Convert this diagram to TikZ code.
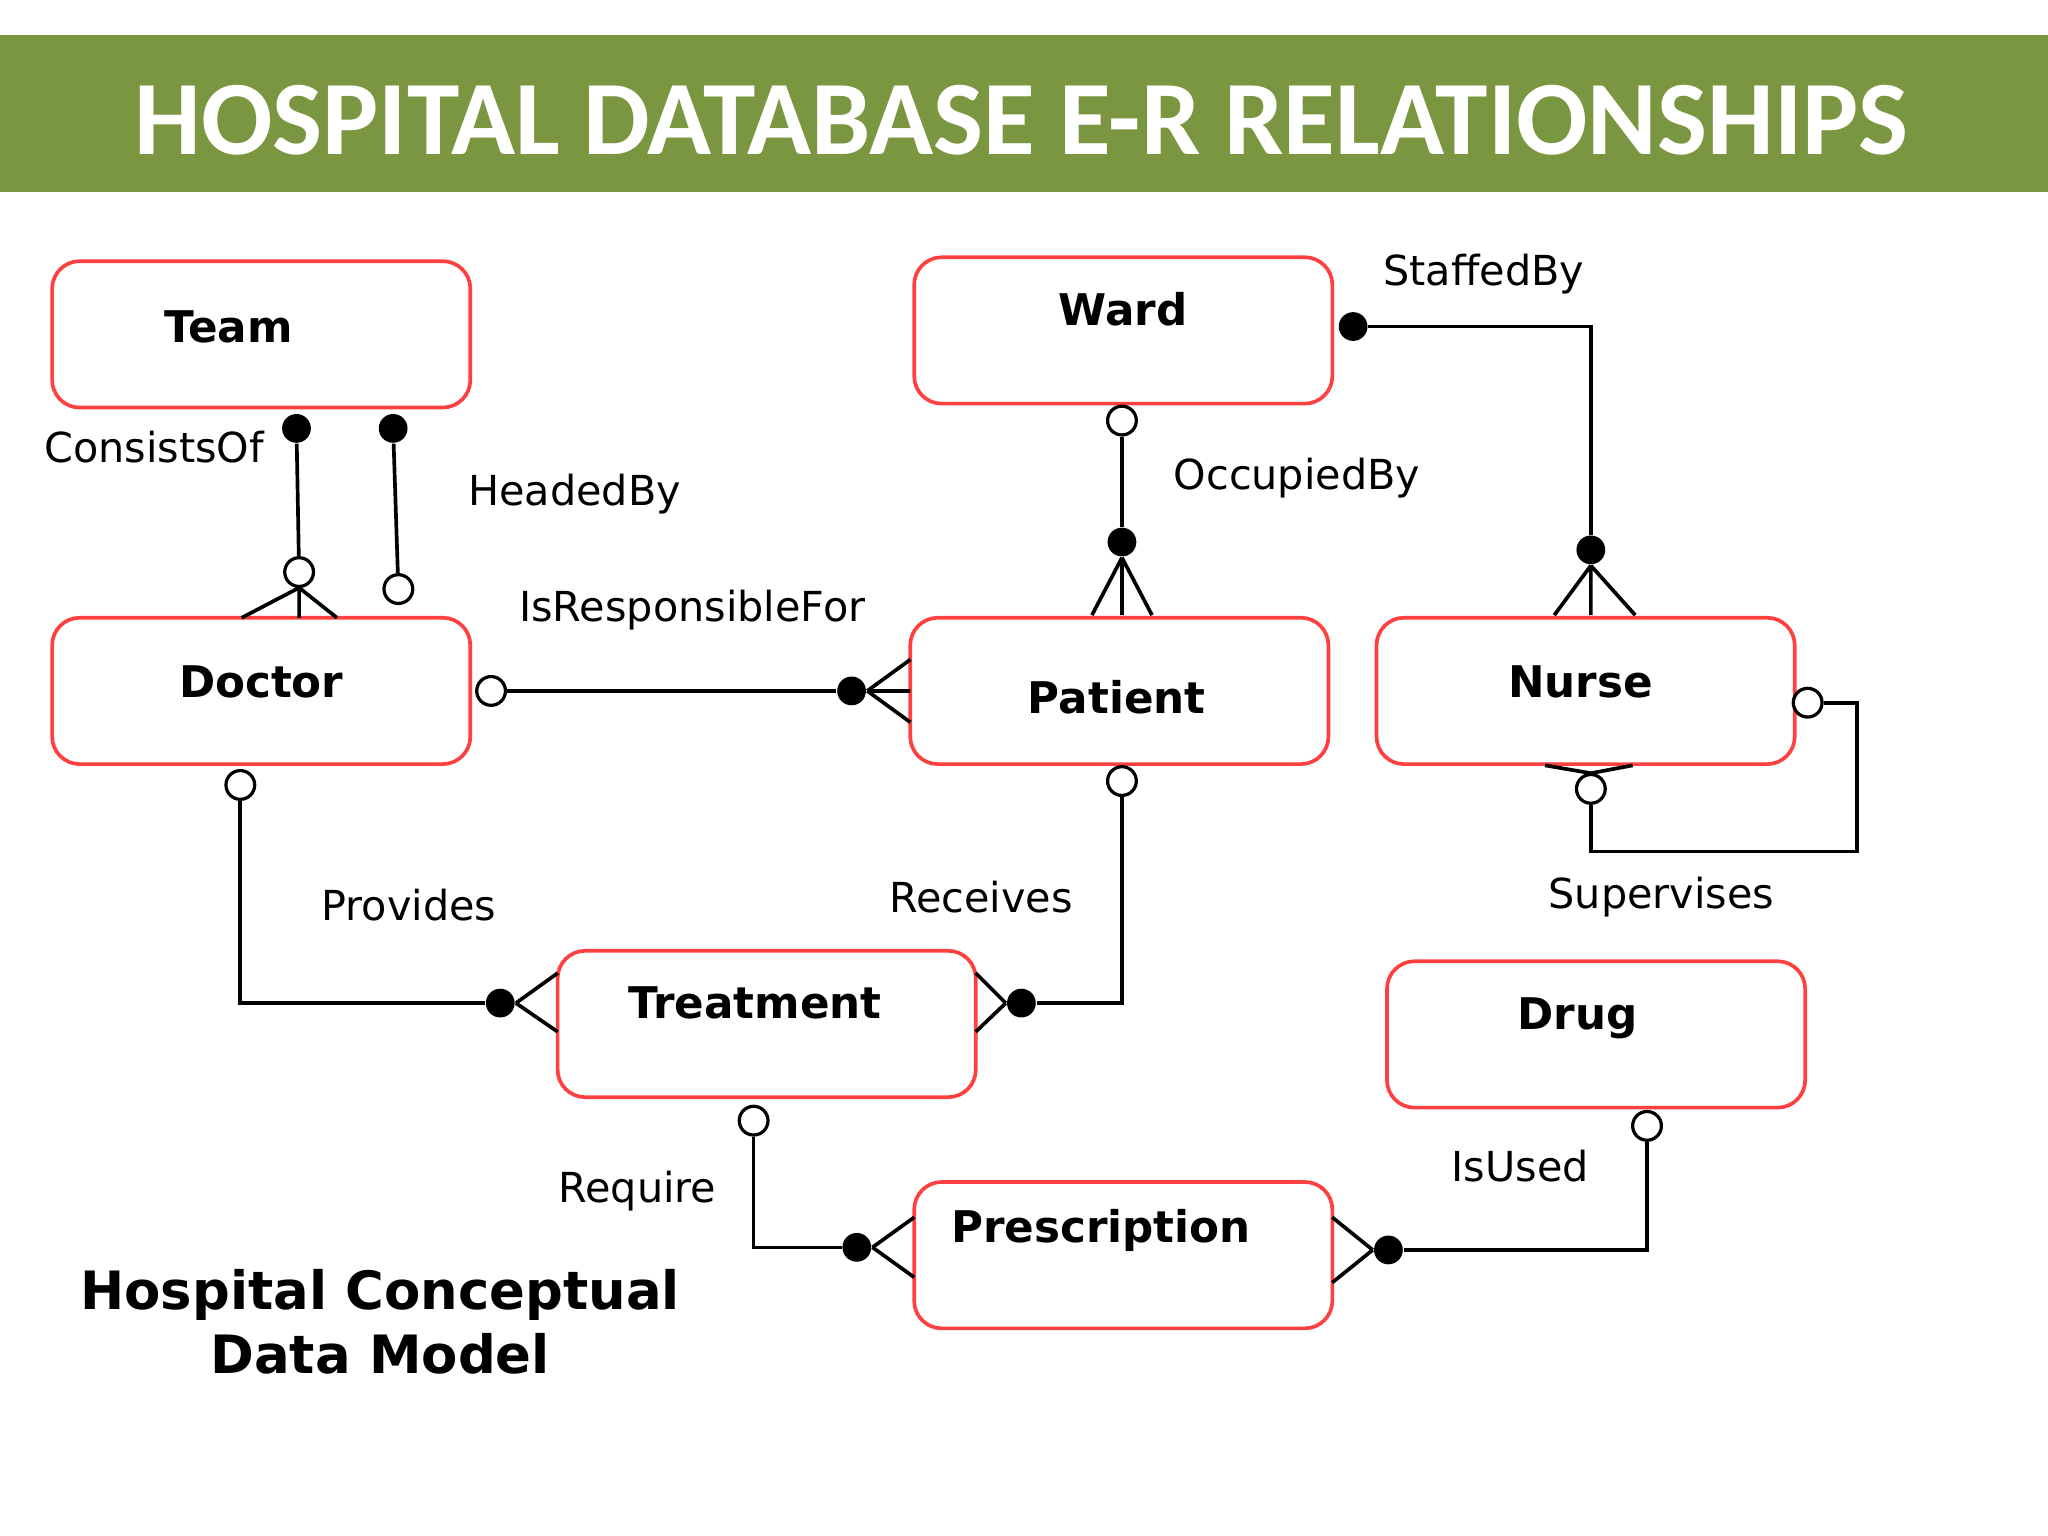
\documentclass[tikz,border=0pt]{standalone}
\usepackage{fontspec}
\setmainfont{DejaVu Sans}
\newfontfamily\titlefont{Carlito}
\begin{document}
\begin{tikzpicture}[x=0.01cm,y=-0.01cm,
  entity/.style={draw=red!75!white,line width=0.8pt,rounded corners=6pt,minimum width=3.2cm,minimum height=1.12cm},
  elabel/.style={font=\fontsize{9.5}{11}\selectfont\bfseries},
  rel/.style={font=\fontsize{9}{11}\selectfont},
  one/.style={circle,fill=black,inner sep=0pt,minimum size=0.22cm},
  opt/.style={circle,draw=black,fill=white,line width=0.7pt,inner sep=0pt,minimum size=0.22cm},
  link/.style={line width=0.8pt}]
\useasboundingbox (0,0) rectangle (1568,1176);
% title band
\fill[fill={rgb,255:red,122;green,150;blue,64}] (0,27) rectangle (1568,147);
\node[text=white,font=\titlefont\fontsize{23}{26}\selectfont\bfseries] (title) at (782,92) {HOSPITAL DATABASE E-R RELATIONSHIPS};
% entities
\node[entity] (team) at (200,256) {};
\node[entity] (ward) at (860,253) {};
\node[entity] (doctor) at (200,529) {};
\node[entity] (patient) at (857,529) {};
\node[entity] (nurse) at (1214,529) {};
\node[entity] (treat) at (587,784) {};
\node[entity] (drug) at (1222,792) {};
\node[entity] (presc) at (860,961) {};
\node[elabel] at (175,250) {Team};
\node[elabel] at (860,237) {Ward};
\node[elabel] at (200,522) {Doctor};
\node[elabel] at (855,534) {Patient};
\node[elabel] at (1210,522) {Nurse};
\node[elabel] at (578,768) {Treatment};
\node[elabel] at (1208,780) {Drug};
\node[elabel] at (843,942) {Prescription};
% ConsistsOf
\draw[link] (229,450) -- (185,473) (229,450) -- (258,473) (229,450) -- (229,473);
\node[one] (c1) at (227,328) {};
\node[opt] (c2) at (229,438) {};
\draw[link] (c1) -- (c2);
% HeadedBy
\node[one] (h1) at (301,328) {};
\node[opt] (h2) at (305,451) {};
\draw[link] (h1) -- (h2);
% OccupiedBy
\draw[link] (859,427) -- (836,471) (859,427) -- (882,471) (859,427) -- (859,471);
\node[opt] (o1) at (859,322) {};
\node[one] (o2) at (859,415) {};
\draw[link] (o1) -- (o2);
% StaffedBy
\draw[link] (1218,433) -- (1190,471) (1218,433) -- (1252,471) (1218,433) -- (1218,471);
\node[one] (s1) at (1036,250) {};
\node[one] (s2) at (1218,421) {};
\draw[link] (s1) -| (s2);
% IsResponsibleFor
\draw[link] (664,529) -- (697,505) (664,529) -- (697,553) (664,529) -- (697,529);
\node[opt] (r1) at (376,529) {};
\node[one] (r2) at (652,529) {};
\draw[link] (r1) -- (r2);
% Provides
\draw[link] (395,768) -- (427,745) (395,768) -- (427,790);
\node[opt] (p1) at (184,601) {};
\node[one] (p2) at (383,768) {};
\draw[link] (p1) |- (p2);
% Receives
\draw[link] (770,768) -- (747,745) (770,768) -- (747,790);
\node[opt] (v1) at (859,598) {};
\node[one] (v2) at (782,768) {};
\draw[link] (v1) |- (v2);
% Supervises
\draw[link] (1218,592) -- (1183,586) (1218,592) -- (1250,586);
\node[opt] (u1) at (1384,538) {};
\node[opt] (u2) at (1218,604) {};
\coordinate (u3) at (1422,652);
\draw[link] (u1) -| (u3) -| (u2);
% Require
\draw[link] (668,955) -- (700,932) (668,955) -- (700,978);
\node[opt] (q1) at (577,858) {};
\node[one] (q2) at (656,955) {};
\draw[link] (q1) |- (q2);
% IsUsed
\draw[link] (1051,957) -- (1020,932) (1051,957) -- (1020,982);
\node[opt] (d1) at (1261,862) {};
\node[one] (d2) at (1063,957) {};
\draw[link] (d1) |- (d2);
% relationship names
\node[rel] at (118,342) {ConsistsOf};
\node[rel] at (440,378) {HeadedBy};
\node[rel] at (993,366) {OccupiedBy};
\node[rel] at (1136,210) {StaffedBy};
\node[rel] at (530,467) {IsResponsibleFor};
\node[rel] at (313,693) {Provides};
\node[rel] at (751,687) {Receives};
\node[rel] at (1272,687) {Supervises};
\node[rel] at (488,912) {Require};
\node[rel] at (1164,893) {IsUsed};
\node[font=\fontsize{11.5}{14}\selectfont\bfseries,align=center] (caption) at (291,1012) {Hospital Conceptual\\Data Model};
\end{tikzpicture}
\end{document}
